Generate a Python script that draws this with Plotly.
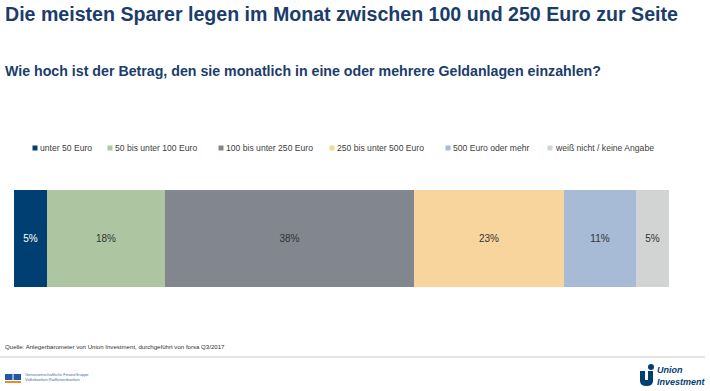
import plotly.graph_objects as go

categories = ["unter 50 Euro", "50 bis unter 100 Euro", "100 bis unter 250 Euro",
              "250 bis unter 500 Euro", "500 Euro oder mehr", "weiß nicht / keine Angabe"]
values = [5, 18, 38, 23, 11, 5]
colors = ["#003f72", "#adc6a1", "#82868e", "#f8d59c", "#a7bbd6", "#d2d3d3"]
text_colors = ["#ffffff", "#333333", "#333333", "#333333", "#333333", "#333333"]

title = "Die meisten Sparer legen im Monat zwischen 100 und 250 Euro zur Seite"
subtitle = "Wie hoch ist der Betrag, den sie monatlich in eine oder mehrere Geldanlagen einzahlen?"
source = "Quelle: Anlegerbarometer von Union Investment, durchgeführt von forsa Q3/2017"

W, H = 710, 391
FONT = "Liberation Sans, Arial, sans-serif"
NAVY = "#1b3d6b"

fig = go.Figure()
for cat, v, c, tc in zip(categories, values, colors, text_colors):
    fig.add_trace(go.Bar(
        y=["A"], x=[v], orientation="h", name=cat,
        marker=dict(color=c, line=dict(width=0)),
        text=[f"{v}%"], textposition="inside", insidetextanchor="middle",
        textfont=dict(color=tc, size=10, family=FONT),
        showlegend=False, hoverinfo="skip",
    ))


def px_x(x):
    return (x - 14) / 655


def px_y(y):
    return (287 - y) / 97


# custom legend
legend_x = [35, 110, 221, 332, 448, 550]
legend_y = 148
shapes = []
annotations = []
for cat, c, lx in zip(categories, colors, legend_x):
    shapes.append(dict(type="rect", xref="paper", yref="paper",
                       x0=px_x(lx - 2.5), x1=px_x(lx + 2.5),
                       y0=px_y(legend_y + 2.5), y1=px_y(legend_y - 2.5),
                       fillcolor=c, line=dict(width=0)))
    annotations.append(dict(text=cat, xref="paper", yref="paper",
                            x=px_x(lx + 2.5), y=px_y(legend_y),
                            xanchor="left", yanchor="middle", showarrow=False,
                            font=dict(size=8.6, color="#404040", family=FONT)))

annotations += [
    dict(text=f"<b>{title}</b>", xref="paper", yref="paper", x=px_x(3), y=px_y(14),
         xanchor="left", yanchor="middle", showarrow=False,
         font=dict(size=19.6, color=NAVY, family=FONT)),
    dict(text=f"<b>{subtitle}</b>", xref="paper", yref="paper", x=px_x(3), y=px_y(71),
         xanchor="left", yanchor="middle", showarrow=False,
         font=dict(size=14.2, color=NAVY, family=FONT)),
    dict(text=source, xref="paper", yref="paper", x=px_x(3), y=px_y(346),
         xanchor="left", yanchor="middle", showarrow=False,
         font=dict(size=6.1, color="#333333", family=FONT)),
    dict(text="Genossenschaftliche FinanzGruppe<br>Volksbanken Raiffeisenbanken", xref="paper", yref="paper",
         x=px_x(23), y=px_y(377), xanchor="left", yanchor="middle", showarrow=False, align="left",
         font=dict(size=4, color="#4a6a9a", family=FONT)),
    dict(text="<b><i>Union<br>Investment</i></b>", xref="paper", yref="paper",
         x=px_x(708), y=px_y(376), xanchor="right", yanchor="middle", showarrow=False, align="left",
         font=dict(size=9, color="#003f72", family=FONT)),
]

# footer line
shapes.append(dict(type="line", xref="paper", yref="paper", x0=px_x(0), x1=px_x(705),
                   y0=px_y(357), y1=px_y(357), line=dict(color="#c8c8c8", width=1)))
# small logo blocks
shapes += [
    dict(type="rect", xref="paper", yref="paper", x0=px_x(5), x1=px_x(12.5), y0=px_y(380), y1=px_y(374),
         fillcolor="#1f5aa6", line=dict(width=0)),
    dict(type="rect", xref="paper", yref="paper", x0=px_x(13.5), x1=px_x(21), y0=px_y(380), y1=px_y(374),
         fillcolor="#1f5aa6", line=dict(width=0)),
    dict(type="rect", xref="paper", yref="paper", x0=px_x(5), x1=px_x(21), y0=px_y(383), y1=px_y(381),
         fillcolor="#f08a1c", line=dict(width=0)),
    dict(type="path", xref="paper", yref="paper",
         path=f"M {px_x(640)},{px_y(371)} L {px_x(645)},{px_y(371)} L {px_x(645)},{px_y(380)} "
              f"L {px_x(648)},{px_y(380)} L {px_x(648)},{px_y(371)} L {px_x(653)},{px_y(371)} "
              f"L {px_x(653)},{px_y(381)} Q {px_x(653)},{px_y(386)} {px_x(646.5)},{px_y(386)} "
              f"Q {px_x(640)},{px_y(386)} {px_x(640)},{px_y(381)} Z",
         fillcolor="#003f72", line=dict(width=0)),
    dict(type="circle", xref="paper", yref="paper", x0=px_x(648), x1=px_x(654), y0=px_y(370), y1=px_y(364),
         fillcolor="#003f72", line=dict(width=0)),
]

fig.update_layout(
    width=W, height=H,
    barmode="stack", bargap=0,
    margin=dict(l=14, r=41, t=190, b=104),
    paper_bgcolor="white", plot_bgcolor="white",
    xaxis=dict(range=[0, sum(values)], visible=False, fixedrange=True),
    yaxis=dict(visible=False, fixedrange=True),
    shapes=shapes, annotations=annotations,
)

fig.write_html("out.html", config={"displayModeBar": False},
               post_script="document.body.style.margin='0px';document.body.style.padding='0px';")
